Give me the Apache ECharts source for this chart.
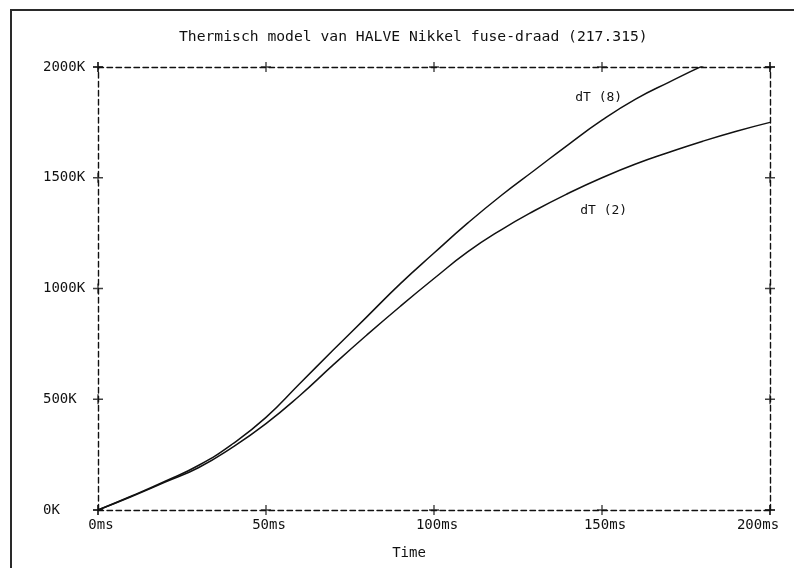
<!DOCTYPE html>
<html>
<head>
<meta charset="utf-8">
<script src="https://cdn.jsdelivr.net/npm/echarts@6/dist/echarts.min.js"></script>
<style>
  html, body { margin: 0; padding: 0; background: #fff; overflow: hidden; }
  #frame { position: absolute; left: 10px; top: 9px; width: 790px; height: 570px;
           border-left: 2px solid #2a2a2a; border-top: 2px solid #2a2a2a; }
  #chart { position: absolute; left: 0; top: 0; width: 794px; height: 568px; }
</style>
</head>
<body>
<div id="frame"></div>
<div id="chart"></div>
<script>
// Simulated wire temperature rise (K) against time (ms)
const timeMs = [0, 10, 20, 30, 40, 50, 60, 70, 80, 90, 100, 110, 120, 130, 140, 150, 160, 170, 180, 190, 200];
const dT8 = [0, 63, 130, 202, 298, 418, 570, 722, 872, 1022, 1160, 1295, 1420, 1535, 1650, 1760, 1855, 1932, 2005, 2070, 2130];
const dT2 = [0, 61, 126, 192, 283, 390, 516, 655, 790, 920, 1045, 1165, 1265, 1352, 1430, 1500, 1562, 1615, 1665, 1710, 1750];

const xTicks = [0, 50, 100, 150, 200];
const yTicks = [0, 500, 1000, 1500, 2000];

// Curve annotations: [name, time, temperature]
const curveLabels = [
  ['dT (8)', 149, 1860],
  ['dT (2)', 150.5, 1350]
];

const FONT = '"DejaVu Sans Mono", "Liberation Mono", monospace';
const INK = '#111';
const dash = [5.5, 3.5];

// "+" marks at every tick along all four frame edges
const crossPts = [];
yTicks.forEach(v => { crossPts.push([xTicks[0], v]); crossPts.push([xTicks[xTicks.length - 1], v]); });
xTicks.forEach(t => { crossPts.push([t, yTicks[0]]); crossPts.push([t, yTicks[yTicks.length - 1]]); });

const pair = (xs, ys) => xs.map((x, i) => [x, ys[i]]);
const lastX = xTicks[xTicks.length - 1];

const chart = echarts.init(document.getElementById('chart'), null, { renderer: 'canvas' });

const edgeAxisLine = { show: true, onZero: false, lineStyle: { color: INK, width: 1.4, type: dash } };
const labelFont = { fontFamily: FONT, fontSize: 14, color: INK };

function curveLabel(entry) {
  return {
    symbol: 'circle', symbolSize: 0, silent: true,
    label: { show: true, formatter: p => p.name, fontFamily: FONT, fontSize: 13, color: INK, position: 'inside' },
    data: [{ name: entry[0], coord: [entry[1], entry[2]] }]
  };
}

chart.setOption({
  animation: false,
  backgroundColor: 'transparent',
  title: {
    text: 'Thermisch model van HALVE Nikkel fuse-draad (217.315)',
    left: 174, top: 25,
    textStyle: { fontFamily: FONT, fontSize: 14.7, fontWeight: 'normal', color: INK }
  },
  grid: { left: 98, right: 24, top: 67, bottom: 58, containLabel: false },
  xAxis: [
    {
      type: 'value', min: 0, max: 200, interval: 50, position: 'bottom',
      name: 'Time', nameLocation: 'middle', nameGap: 36,
      nameTextStyle: Object.assign({ padding: [0, 50, 0, 0] }, labelFont),
      axisLine: edgeAxisLine,
      axisTick: { show: false },
      splitLine: { show: false },
      axisLabel: Object.assign({
        margin: 8,
        formatter: v => v === lastX ? '{e|' + v + 'ms}' : '{n|' + v + 'ms}',
        rich: {
          n: Object.assign({ padding: [0, 0, 0, 6] }, labelFont),
          e: Object.assign({ padding: [0, 24, 0, 0] }, labelFont)
        }
      }, labelFont)
    },
    {
      type: 'value', min: 0, max: 200, interval: 50, position: 'top',
      axisLine: edgeAxisLine, axisTick: { show: false }, splitLine: { show: false },
      axisLabel: { show: false }
    }
  ],
  yAxis: [
    {
      type: 'value', min: 0, max: 2000, interval: 500, position: 'left',
      axisLine: edgeAxisLine,
      axisTick: { show: false },
      splitLine: { show: false },
      axisLabel: Object.assign({ formatter: v => v + 'K', align: 'left', margin: 55 }, labelFont)
    },
    {
      type: 'value', min: 0, max: 2000, interval: 500, position: 'right',
      axisLine: edgeAxisLine, axisTick: { show: false }, splitLine: { show: false },
      axisLabel: { show: false }
    }
  ],
  series: [
    {
      name: 'dT (8)', type: 'line', data: pair(timeMs, dT8),
      smooth: true, showSymbol: false, clip: true,
      lineStyle: { color: INK, width: 1.5 },
      markPoint: curveLabel(curveLabels[0])
    },
    {
      name: 'dT (2)', type: 'line', data: pair(timeMs, dT2),
      smooth: true, showSymbol: false, clip: true,
      lineStyle: { color: INK, width: 1.5 },
      markPoint: curveLabel(curveLabels[1])
    },
    {
      name: 'ticks', type: 'scatter', data: crossPts, clip: false, silent: true,
      symbol: 'path://M0,4.3H10V5.7H0Z M4.3,0H5.7V10H4.3Z', symbolSize: 10,
      itemStyle: { color: INK }, z: 5
    }
  ]
});
</script>
</body>
</html>
